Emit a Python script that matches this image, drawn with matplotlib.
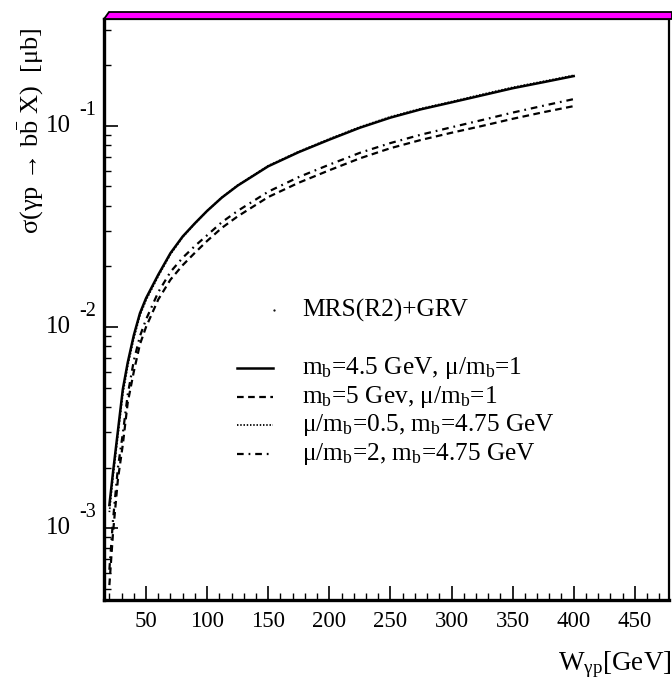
import numpy as np
import matplotlib
matplotlib.use("Agg")
import matplotlib.pyplot as plt
from matplotlib.patches import Polygon
from matplotlib.lines import Line2D

plt.rcParams["font.family"] = ["Liberation Serif", "DejaVu Serif"]
plt.rcParams["mathtext.fontset"] = "custom"
plt.rcParams["mathtext.rm"] = "Liberation Serif"
plt.rcParams["mathtext.it"] = "Liberation Serif:italic"
plt.rcParams["mathtext.default"] = "regular"

# photon-proton energy grid [GeV]
W = [20, 23, 27, 31, 35, 40, 45, 50, 60, 70, 80, 90, 100, 112, 125, 150, 175,
     200, 225, 250, 275, 300, 325, 350, 375, 400]

# sigma(gamma p -> b bbar X) [mub]
sig_mb45 = [1.3e-3, 1.9e-3, 3.05e-3, 4.9e-3, 6.65e-3, 9.1e-3, 1.17e-2, 1.39e-2,
            1.82e-2, 2.33e-2, 2.82e-2, 3.28e-2, 3.78e-2, 4.4e-2, 5.05e-2,
            6.3e-2, 7.41e-2, 8.55e-2, 9.8e-2, 0.110, 0.121, 0.131, 0.142,
            0.154, 0.165, 0.177]
sig_mb5 = [5.2e-4, 9.5e-4, 1.75e-3, 2.6e-3, 4.2e-3, 6.0e-3, 8.2e-3, 1.0e-2,
           1.37e-2, 1.72e-2, 2.03e-2, 2.34e-2, 2.68e-2, 3.11e-2, 3.55e-2,
           4.43e-2, 5.22e-2, 6.02e-2, 6.9e-2, 7.75e-2, 8.52e-2, 9.25e-2,
           0.100, 0.1085, 0.117, 0.1255]
sig_mu05 = [1.2e-3, 1.8e-3, 2.9e-3, 4.65e-3, 6.4e-3, 8.8e-3, 1.14e-2, 1.36e-2,
            1.79e-2, 2.30e-2, 2.80e-2, 3.27e-2, 3.78e-2, 4.41e-2, 5.07e-2,
            6.34e-2, 7.46e-2, 8.62e-2, 9.88e-2, 0.111, 0.122, 0.132, 0.1435,
            0.1555, 0.1665, 0.1785]
sig_mu2 = [6.2e-4, 1.1e-3, 2.0e-3, 2.95e-3, 4.6e-3, 6.8e-3, 9.0e-3, 1.09e-2,
           1.49e-2, 1.88e-2, 2.21e-2, 2.53e-2, 2.86e-2, 3.32e-2, 3.78e-2,
           4.71e-2, 5.57e-2, 6.42e-2, 7.35e-2, 8.22e-2, 9.05e-2, 9.85e-2,
           0.107, 0.1165, 0.126, 0.136]

labels = ["m$_{b}$=4.5 GeV, μ/m$_{b}$=1",
          "m$_{b}$=5 Gev, μ/m$_{b}$=1",
          "μ/m$_{b}$=0.5, m$_{b}$=4.75 GeV",
          "μ/m$_{b}$=2, m$_{b}$=4.75 GeV"]
xticks = [50, 100, 150, 200, 250, 300, 350, 400, 450]
decades = [-3, -2, -1]

styles = [dict(ls="-", lw=1.8),
          dict(ls=(0, (3.0, 2.0)), lw=1.6),
          dict(ls=(0, (0.8, 1.0)), lw=1.3),
          dict(ls=(0, (3.0, 2.2, 0.8, 2.2)), lw=1.6)]

fig = plt.figure(figsize=(6.72, 6.94), dpi=100)
ax = fig.add_axes([104 / 672, 94 / 694, 565 / 672, 581 / 694])
ax.set_yscale("log")
ax.set_xlim(15.6, 478)
ax.set_ylim(10 ** -3.358, 10 ** -0.468)

for sig, st in zip([sig_mb45, sig_mb5, sig_mu05, sig_mu2], styles):
    ax.plot(W, sig, color="black", **st)

# axes frame and ticks
for side in ["left", "bottom"]:
    ax.spines[side].set_linewidth(2.4)
for side in ["right", "top"]:
    ax.spines[side].set_linewidth(1.6)
ax.set_xticks(xticks)
ax.set_xticks(np.arange(20, 478, 10), minor=True)
ax.set_xticklabels([str(t) for t in xticks], fontsize=16.5)
ax.tick_params(axis="x", which="major", direction="in", length=10, width=1.2,
               pad=8, top=False)
ax.tick_params(axis="x", which="minor", direction="in", length=5, width=1.0,
               top=False)
ax.yaxis.set_major_locator(matplotlib.ticker.LogLocator(base=10, numticks=10))
ax.yaxis.set_minor_locator(matplotlib.ticker.LogLocator(
    base=10, subs=np.arange(2, 10), numticks=20))
ax.tick_params(axis="y", which="major", direction="in", length=10, width=1.2,
               right=False)
ax.tick_params(axis="y", which="minor", direction="in", length=5, width=1.0,
               right=False)
ax.yaxis.set_major_formatter(matplotlib.ticker.NullFormatter())
ax.yaxis.set_minor_formatter(matplotlib.ticker.NullFormatter())

# decade labels: "10" with a raised exponent
for d in decades:
    y_ax = (d - (-3.358)) / (3.358 - 0.468)
    ax.text(-0.058, y_ax, "10", transform=ax.transAxes, ha="right",
            va="center", fontsize=18)
    ax.text(-0.043, y_ax + 0.027, str(d), transform=ax.transAxes, ha="left",
            va="center", fontsize=14.5)

# axis titles
fig.text(31 / 672, 1 - 131 / 694,
         "σ(γp → b$\\bar{b}$ X)  [μb]",
         rotation=90, ha="center", va="center", fontsize=19)
fig.text(672 / 672, 1 - 665 / 694, "W$_{γp}$[GeV]", ha="right",
         va="center", fontsize=19.5)

# legend drawn in axes coordinates
def fx(px):
    return (px - 104) / 565

def fy(py):
    return (600 - py) / 581

ax.plot([fx(274)], [fy(310)], marker=".", ms=1.2, color="black",
        transform=ax.transAxes)
ax.text(fx(302), fy(310), "MRS(R2)+GRV", transform=ax.transAxes,
        ha="left", va="center", fontsize=18.3)
for i, (lab, st) in enumerate(zip(labels, styles)):
    yy = [368, 397, 425, 454][i]
    ax.add_line(Line2D([fx(237), fx(273)], [fy(yy), fy(yy)],
                       transform=ax.transAxes, color="black", **st))
    ax.text(fx(302), fy(yy), lab, transform=ax.transAxes, ha="left",
            va="center", fontsize=18.3)

# magenta band on top of the frame
band = Polygon([(104 / 672, 1 - 19 / 694), (109 / 672, 1 - 12 / 694),
                (1.0, 1 - 12 / 694), (1.0, 1 - 19 / 694)],
               closed=True, transform=fig.transFigure, facecolor="#ff00ff",
               edgecolor="black", linewidth=1.3)
fig.patches.append(band)

fig.savefig("out.png", dpi=100)
